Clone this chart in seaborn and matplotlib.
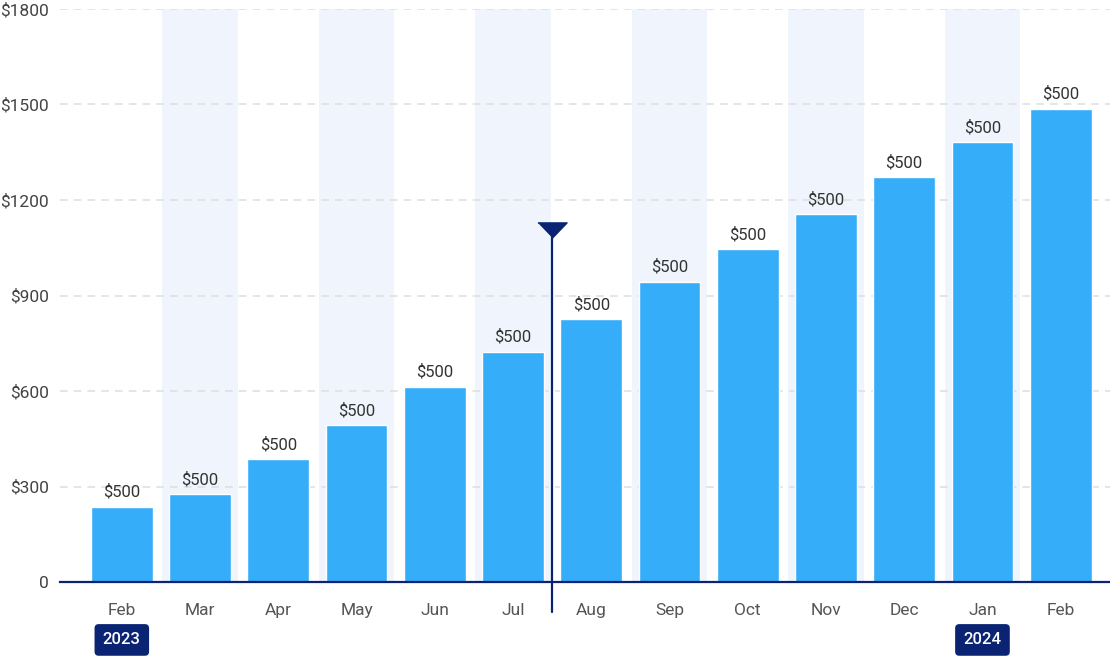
import pandas as pd
import seaborn as sns
import matplotlib.pyplot as plt
from matplotlib.ticker import FuncFormatter

# monthly totals, Feb 2023 .. Feb 2024
months = ['Feb', 'Mar', 'Apr', 'May', 'Jun', 'Jul', 'Aug',
          'Sep', 'Oct', 'Nov', 'Dec', 'Jan', 'Feb ']
values = [236, 276, 386, 493, 613, 723, 826, 943, 1046, 1156, 1272, 1382, 1486]
bar_labels = ['$500'] * 13
year_labels = {0: '2023', 11: '2024'}
y_ticks = [0, 300, 600, 900, 1200, 1500, 1800]

NAVY = '#0a2473'
BAR = '#35adf9'
SHADE = '#eff4fd'

sns.set_style('white')
plt.rcParams['font.family'] = ['Roboto', 'DejaVu Sans']

df = pd.DataFrame({'month': months, 'value': values})

fig = plt.figure(figsize=(11.1, 6.56), dpi=100)
ax = fig.add_axes([60 / 1110, 74 / 656, 1050 / 1110, 573 / 656])

# alternating background bands
for i in range(1, len(months), 2):
    ax.axvspan(i - 0.48, i + 0.48, color=SHADE, zorder=0, lw=0)

for t in y_ticks[1:]:
    ax.axhline(t, color='#dedede', lw=1.1, ls=(0, (5, 4)), zorder=0.5)

sns.barplot(data=df, x='month', y='value', order=months, color=BAR,
            saturation=1, width=0.79, ax=ax, zorder=2)

for i, (v, lab) in enumerate(zip(values, bar_labels)):
    ax.text(i, v + 22, lab, ha='center', va='bottom', fontsize=12,
            color='#333333', zorder=3)

ax.set_xlim(-0.79, 12.63)
ax.set_ylim(0, 1800)
ax.set_yticks(y_ticks)
ax.yaxis.set_major_formatter(FuncFormatter(lambda v, p: '0' if v == 0 else f'${int(v)}'))
ax.set_xticks(range(len(months)))
ax.set_xticklabels([m.strip() for m in months])
ax.tick_params(axis='x', length=0, pad=15, labelsize=12.5, labelcolor='#555555')
ax.tick_params(axis='y', length=0, pad=8, labelsize=12.5, labelcolor='#444444')
ax.set_xlabel('')
ax.set_ylabel('')

for s in ['top', 'right', 'left']:
    ax.spines[s].set_visible(False)
ax.spines['bottom'].set_color(NAVY)
ax.spines['bottom'].set_linewidth(1.6)
ax.spines['bottom'].set_zorder(4)

# "today" marker between Jul and Aug
ax.plot([5.5, 5.5], [-94, 1110], color=NAVY, lw=1.6, clip_on=False, zorder=5)
ax.plot([5.5], [1106], marker=[(-1, 0.52), (1, 0.52), (0, -0.52)],
        markersize=21, color=NAVY, clip_on=False, zorder=6)

for i, yr in year_labels.items():
    ax.text(i, -182, yr, ha='center', va='center', fontsize=12, color='white',
            fontweight='medium', clip_on=False,
            bbox=dict(boxstyle='round,pad=0.5,rounding_size=0.25',
                      fc=NAVY, ec='none'))

fig.savefig('out.png', dpi=100)
plt.close(fig)
